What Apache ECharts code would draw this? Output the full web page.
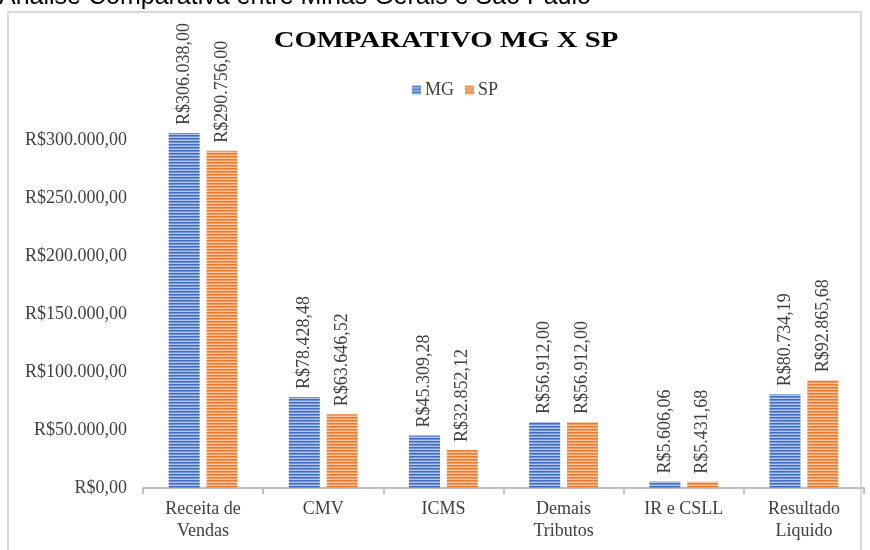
<!DOCTYPE html>
<html>
<head>
<meta charset="utf-8">
<script src="https://cdn.jsdelivr.net/npm/echarts@6/dist/echarts.min.js"></script>
<style>html,body{margin:0;padding:0;background:#fff;}#c{width:870px;height:550px;}</style>
</head>
<body>
<div id="c"></div>
<script>
const pageTitle = 'Análise Comparativa entre Minas Gerais e São Paulo';
const chartTitle = 'COMPARATIVO MG X SP';
const categories = ['Receita de\nVendas', 'CMV', 'ICMS', 'Demais\nTributos', 'IR e CSLL', 'Resultado\nLiquido'];
const seriesNames = ['MG', 'SP'];
const mgValues = [306038.00, 78428.48, 45309.28, 56912.00, 5606.06, 80734.19];
const spValues = [290756.00, 63646.52, 32852.12, 56912.00, 5431.68, 92865.68];
const yTicks = [0, 50000, 100000, 150000, 200000, 250000, 300000];

function fmt(v) {
  const s = Math.abs(v).toFixed(2);
  const parts = s.split('.');
  return 'R$' + parts[0].replace(/\B(?=(\d{3})+(?!\d))/g, '.') + ',' + parts[1];
}

function stripe(dark, mid, light) {
  const c = document.createElement('canvas');
  c.width = 4; c.height = 3;
  const ctx = c.getContext('2d');
  ctx.fillStyle = dark; ctx.fillRect(0, 0, 4, 1);
  ctx.fillStyle = mid; ctx.fillRect(0, 1, 4, 1);
  ctx.fillStyle = light; ctx.fillRect(0, 2, 4, 1);
  return { image: c, repeat: 'repeat' };
}
const blueFill = stripe('#3f6cc0', '#6f93d6', '#b3c7ec');
const orangeFill = stripe('#ec7a2c', '#f39a5c', '#f9c7a2');

const serif = "'Liberation Serif', 'Times New Roman', serif";
const txt = '#404040';

const chart = echarts.init(document.getElementById('c'), null, { renderer: 'canvas' });
const labelCfg = {
  show: true,
  position: 'top',
  rotate: 90,
  align: 'left',
  verticalAlign: 'middle',
  distance: 8,
  fontFamily: serif,
  fontSize: 18,
  color: txt,
  formatter: p => fmt(p.value)
};
chart.setOption({
  animation: false,
  backgroundColor: '#ffffff',
  graphic: [
    { type: 'rect', shape: { x: 8, y: 12, width: 853, height: 545 }, style: { fill: 'none', stroke: '#d9d9d9', lineWidth: 2 }, z: -10 },
    { type: 'text', x: -1, y: -3, style: { text: pageTitle, fontFamily: "'Liberation Sans', Arial, sans-serif", fontSize: 25, fill: '#000', align: 'left', verticalAlign: 'middle' } },
    { type: 'text', x: 446, y: 41, scaleX: 1.2, style: { text: chartTitle, fontFamily: serif, fontWeight: 'bold', fontSize: 24, fill: '#000', align: 'center', verticalAlign: 'middle' } }
  ],
  legend: {
    left: 407, top: 76,
    itemWidth: 9, itemHeight: 9, itemGap: 11,
    icon: 'rect',
    textStyle: { fontFamily: serif, fontSize: 18, color: txt, padding: [0, 0, 0, -1] },
    data: seriesNames
  },
  grid: { left: 143, right: 6, top: 82, bottom: 62, containLabel: false },
  xAxis: {
    type: 'category',
    data: categories,
    axisLine: { lineStyle: { color: '#bfbfbf', width: 2 } },
    axisTick: { show: true, length: 6, lineStyle: { color: '#bfbfbf', width: 2 } },
    axisLabel: { fontFamily: serif, fontSize: 18, color: txt, lineHeight: 22, margin: 10, interval: 0 }
  },
  yAxis: {
    type: 'value',
    min: 0, max: 350000, interval: 50000,
    axisLine: { show: false },
    axisTick: { show: false },
    splitLine: { show: false },
    axisLabel: {
      showMaxLabel: false,
      fontFamily: serif, fontSize: 18, color: txt, margin: 16,
      formatter: v => (yTicks.indexOf(v) >= 0 ? fmt(v) : '')
    }
  },
  series: [
    { name: seriesNames[0], type: 'bar', data: mgValues, barWidth: 31, barGap: '22%', itemStyle: { color: blueFill }, label: labelCfg },
    { name: seriesNames[1], type: 'bar', data: spValues, barWidth: 31, barGap: '22%', itemStyle: { color: orangeFill }, label: labelCfg }
  ]
});
</script>
</body>
</html>
